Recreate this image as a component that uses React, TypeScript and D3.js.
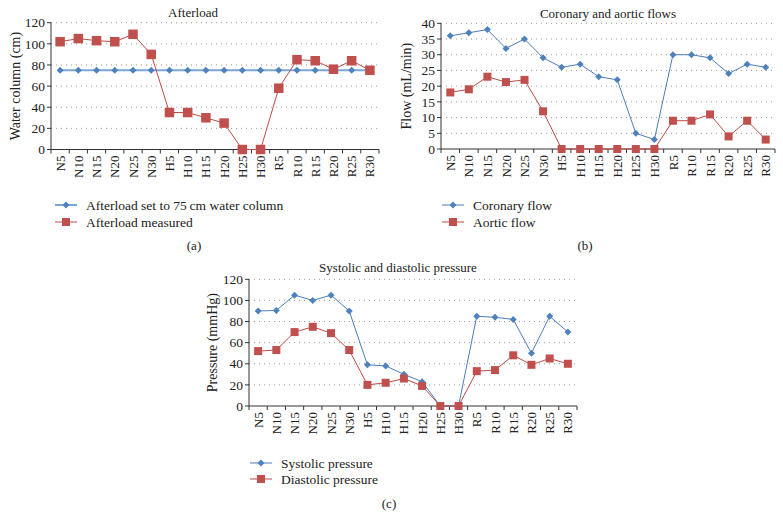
import React from "react";
import * as d3 from "d3";

const categories = ["N5","N10","N15","N20","N25","N30","H5","H10","H15","H20","H25","H30","R5","R10","R15","R20","R25","R30"];

const afterloadSet = [75,75,75,75,75,75,75,75,75,75,75,75,75,75,75,75,75,75];
const afterloadMeasured = [102,105,103,102,109,90,35,35,30,25,0,0,58,85,84,76,84,75];

const coronaryFlow = [36,37,38,32,35,29,26,27,23,22,5,3,30,30,29,24,27,26];
const aorticFlow = [18,19,23,21.3,22,12,0,0,0,0,0,0,9,9,11,4,9,3];

const systolic = [90,90.5,105,100,105,90,39,38,30,23,0,0,85,84,82,50,85,70];
const diastolic = [52,53,70,75,69,53,20,22,26,19,0,0,33,34,48,39,45,40];

const ticksA = [0,20,40,60,80,100,120];
const ticksB = [0,5,10,15,20,25,30,35,40];
const ticksC = [0,20,40,60,80,100,120];

const FONT = "'Liberation Serif', 'DejaVu Serif', serif";
const BLUE_LINE = "#4A7EBB";
const BLUE_MARK = "#4F81BD";
const RED_LINE = "#BE4B48";
const RED_MARK = "#C0504D";

type Series = { name: string; values: number[]; color: string; mark: string; shape: "diamond" | "square"; width: number; size: number };

type PanelProps = {
  left: number; right: number; top: number; bottom: number;
  yMax: number; ticks: number[];
  title: string; titleX: number; titleY: number;
  yTitle: string; yTitleX: number;
  series: Series[];
  legendX: number; legendY: number; legendDy: number;
  caption: string; captionX: number; captionY: number;
};

function Marker({ x, y, s }: { x: number; y: number; s: Series }) {
  if (s.shape === "square") {
    const h = s.size / 2;
    return <rect x={x - h} y={y - h} width={s.size} height={s.size} fill={s.mark} />;
  }
  const h = s.size / 2;
  return <path d={`M${x},${y - h}L${x + h},${y}L${x},${y + h}L${x - h},${y}Z`} fill={s.mark} />;
}

function Panel(p: PanelProps) {
  const x = d3.scaleBand<string>().domain(categories).range([p.left, p.right]).padding(0);
  const y = d3.scaleLinear().domain([0, p.yMax]).range([p.bottom, p.top]);
  const cx = (c: string) => (x(c) as number) + x.bandwidth() / 2;
  const line = d3.line<number>().x((_, i) => cx(categories[i])).y((v) => y(v));
  const boundaries = categories.map((c) => x(c) as number).concat([p.right]);
  return (
    <g>
      <text x={p.titleX} y={p.titleY} textAnchor="middle" fontSize={13} fontFamily={FONT} fill="#222">{p.title}</text>
      {p.ticks.filter((t) => t > 0).map((t) => (
        <line key={"g" + t} x1={p.left} x2={p.right} y1={y(t)} y2={y(t)} stroke="#9a9a9a" strokeWidth={1} strokeDasharray="1,4" />
      ))}
      <line x1={p.left} x2={p.left} y1={p.top} y2={p.bottom} stroke="#333" strokeWidth={1} />
      <line x1={p.left} x2={p.right} y1={p.bottom} y2={p.bottom} stroke="#333" strokeWidth={1} />
      {p.ticks.map((t) => (
        <g key={"t" + t}>
          <line x1={p.left - 4} x2={p.left} y1={y(t)} y2={y(t)} stroke="#333" />
          <text x={p.left - 6} y={y(t)} dy="0.35em" textAnchor="end" fontSize={13.5} fontFamily={FONT} fill="#222">{t}</text>
        </g>
      ))}
      {boundaries.map((b, i) => (
        <line key={"b" + i} x1={b} x2={b} y1={p.bottom} y2={p.bottom + 4} stroke="#333" />
      ))}
      {categories.map((c) => (
        <text key={"c" + c} transform={`translate(${cx(c)},${p.bottom + 6}) rotate(-90)`} textAnchor="end" dy="0.35em" fontSize={13} fontFamily={FONT} fill="#222">{c}</text>
      ))}
      <text transform={`translate(${p.yTitleX},${(p.top + p.bottom) / 2}) rotate(-90)`} textAnchor="middle" dy="0.35em" fontSize={14} fontFamily={FONT} fill="#222">{p.yTitle}</text>
      {p.series.map((s) => (
        <g key={s.name}>
          <path d={line(s.values) || ""} fill="none" stroke={s.color} strokeWidth={s.width} />
          {s.values.map((v, i) => (
            <Marker key={i} x={cx(categories[i])} y={y(v)} s={s} />
          ))}
        </g>
      ))}
      {p.series.map((s, i) => {
        const ly = p.legendY + i * p.legendDy;
        return (
          <g key={"l" + s.name}>
            <line x1={p.legendX} x2={p.legendX + 22} y1={ly} y2={ly} stroke={s.color} strokeWidth={s.width} />
            <Marker x={p.legendX + 11} y={ly} s={{ ...s, size: s.shape === "square" ? 8 : 7 }} />
            <text x={p.legendX + 31} y={ly} dy="0.35em" fontSize={13.5} fontFamily={FONT} fill="#222">{s.name}</text>
          </g>
        );
      })}
      <text x={p.captionX} y={p.captionY} dy="0.35em" textAnchor="middle" fontSize={13} fontFamily={FONT} fill="#222">{p.caption}</text>
    </g>
  );
}

export default function App() {
  return (
    <svg width={783} height={517} style={{ position: "absolute", left: 0, top: 0, background: "#fff" }}>
      <rect width={783} height={517} fill="#fff" />
      <Panel
        left={51} right={379} top={22.7} bottom={149.5} yMax={120} ticks={ticksA}
        title="Afterload" titleX={193} titleY={17} yTitle="Water column (cm)" yTitleX={15}
        series={[
          { name: "Afterload set to 75\u2009cm water column", values: afterloadSet, color: "#7AA6DA", mark: BLUE_MARK, shape: "diamond", width: 2, size: 7 },
          { name: "Afterload measured", values: afterloadMeasured, color: RED_LINE, mark: RED_MARK, shape: "square", width: 1, size: 9.5 },
        ]}
        legendX={55} legendY={205} legendDy={17} caption="(a)" captionX={194} captionY={245}
      />
      <Panel
        left={441} right={775} top={23.3} bottom={149} yMax={40} ticks={ticksB}
        title="Coronary and aortic flows" titleX={608} titleY={18} yTitle="Flow (mL/min)" yTitleX={406}
        series={[
          { name: "Coronary flow", values: coronaryFlow, color: BLUE_LINE, mark: BLUE_MARK, shape: "diamond", width: 1, size: 7 },
          { name: "Aortic flow", values: aorticFlow, color: RED_LINE, mark: RED_MARK, shape: "square", width: 1, size: 8 },
        ]}
        legendX={442} legendY={205} legendDy={17} caption="(b)" captionX={585} captionY={245}
      />
      <Panel
        left={249} right={577} top={279.3} bottom={406} yMax={120} ticks={ticksC}
        title="Systolic and diastolic pressure" titleX={398} titleY={272} yTitle="Pressure (mmHg)" yTitleX={212}
        series={[
          { name: "Systolic pressure", values: systolic, color: BLUE_LINE, mark: BLUE_MARK, shape: "diamond", width: 1, size: 7 },
          { name: "Diastolic pressure", values: diastolic, color: RED_LINE, mark: RED_MARK, shape: "square", width: 1, size: 8 },
        ]}
        legendX={250} legendY={463} legendDy={16} caption="(c)" captionX={389} captionY={503}
      />
    </svg>
  );
}
